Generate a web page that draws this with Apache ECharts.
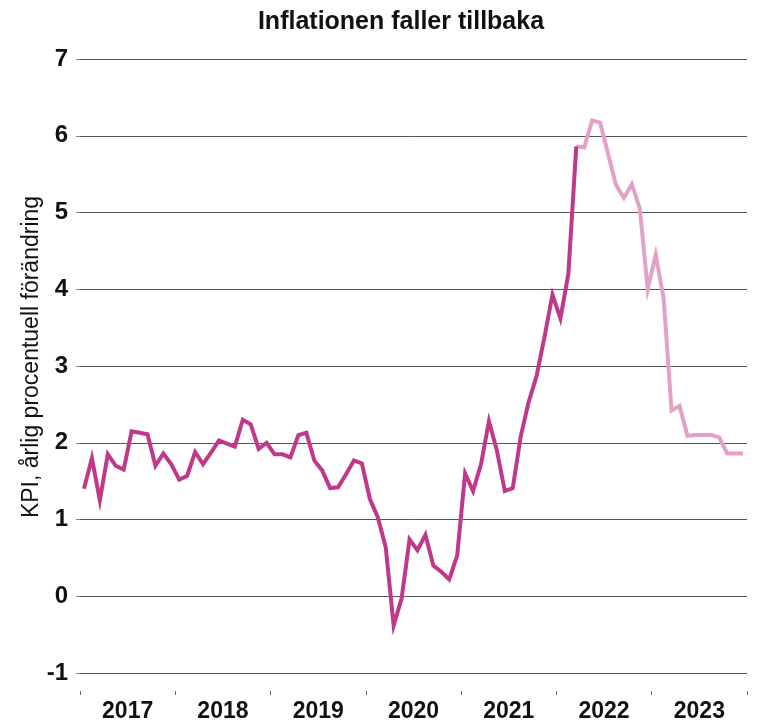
<!DOCTYPE html>
<html>
<head>
<meta charset="utf-8">
<script src="https://cdn.jsdelivr.net/npm/echarts@6/dist/echarts.min.js"></script>
<style>html,body{margin:0;padding:0;background:#fff}#c{width:768px;height:724px}</style>
</head>
<body>
<div id="c"></div>
<script>
const title = "Inflationen faller tillbaka";
const yName = "KPI, årlig procentuell förändring";
const years = ["2017", "2018", "2019", "2020", "2021", "2022", "2023"];
const yTicks = [-1, 0, 1, 2, 3, 4, 5, 6, 7];

// Utfall (monthly, Jan 2017 – Mar 2022)
const actual2017 = [1.4, 1.8, 1.25, 1.85, 1.7, 1.65, 2.15, 2.13, 2.11, 1.7, 1.86, 1.72];
const actual2018 = [1.52, 1.57, 1.88, 1.72, 1.87, 2.03, 1.99, 1.95, 2.3, 2.24, 1.92, 2.0];
const actual2019 = [1.85, 1.85, 1.81, 2.1, 2.13, 1.77, 1.64, 1.41, 1.42, 1.59, 1.77, 1.73];
const actual2020 = [1.27, 1.03, 0.64, -0.38, -0.03, 0.74, 0.6, 0.8, 0.4, 0.32, 0.22, 0.53];
const actual2021 = [1.6, 1.37, 1.72, 2.28, 1.9, 1.37, 1.41, 2.08, 2.53, 2.87, 3.38, 3.93];
const actual2022 = [3.62, 4.2, 5.86];

// Prognos (monthly, Mar 2022 – Dec 2023)
const forecast2022 = [5.86, 5.85, 6.2, 6.17, 5.77, 5.36, 5.19, 5.37, 5.05, 4.0];
const forecast2023 = [4.45, 3.88, 2.42, 2.48, 2.09, 2.1, 2.1, 2.1, 2.07, 1.86, 1.86, 1.86];
const forecastStartIndex = 62; // Mar 2022

const months = [];
years.forEach(y => { for (let m = 1; m <= 12; m++) months.push(y + "-" + String(m).padStart(2, "0")); });

const actual = [].concat(actual2017, actual2018, actual2019, actual2020, actual2021, actual2022);
const forecastVals = [].concat(forecast2022, forecast2023);
const actualData = months.map((_, i) => i < actual.length ? actual[i] : null);
const forecastData = months.map((_, i) => (i >= forecastStartIndex && i - forecastStartIndex < forecastVals.length) ? forecastVals[i - forecastStartIndex] : null);

const font = "'Liberation Sans', Arial, sans-serif";
const chart = echarts.init(document.getElementById('c'), null, { renderer: 'canvas' });
chart.setOption({
  animation: false,
  backgroundColor: '#fff',
  title: {
    text: title, left: 396, top: 5, textAlign: 'center',
    textStyle: { fontFamily: font, fontSize: 25, fontWeight: 'bold', color: '#111' }
  },
  grid: { left: 80, right: 21, top: 59, bottom: 51, containLabel: false },
  xAxis: [
    {
      type: 'category', data: months, boundaryGap: true, position: 'bottom', offset: 18,
      axisLine: { show: false, onZero: false },
      axisTick: { show: true, interval: 11, length: 4, lineStyle: { color: '#666', width: 1 } },
      axisLabel: { show: false },
      splitLine: { show: false }
    },
    {
      type: 'category', data: years, boundaryGap: true, position: 'bottom', offset: 18,
      axisLine: { show: false, onZero: false }, axisTick: { show: false },
      axisLabel: { show: true, margin: 9, fontFamily: font, fontSize: 23, fontWeight: 'bold', color: '#111' },
      splitLine: { show: false }
    }
  ],
  yAxis: {
    type: 'value', min: yTicks[0], max: yTicks[yTicks.length - 1], interval: 1,
    name: yName, nameLocation: 'middle', nameGap: 37, nameRotate: 90, nameMoveOverlap: false,
    nameTextStyle: { fontFamily: font, fontSize: 23, color: '#111', padding: [0, 0, 0, 18] },
    axisLine: { show: false },
    axisTick: { show: true, length: 4, lineStyle: { color: '#888' } },
    axisLabel: { margin: 12, fontFamily: font, fontSize: 24, fontWeight: 'bold', color: '#111' },
    splitLine: { show: true, lineStyle: { color: '#555', width: 1 } }
  },
  series: [
    {
      type: 'line', xAxisIndex: 0, data: actualData, showSymbol: false, symbol: 'none',
      lineStyle: { color: '#c0388a', width: 4, join: 'miter' }, connectNulls: false, z: 3
    },
    {
      type: 'line', xAxisIndex: 0, data: forecastData, showSymbol: false, symbol: 'none',
      lineStyle: { color: '#e3a1c7', width: 4, join: 'miter' }, connectNulls: false, z: 2
    }
  ]
});
</script>
</body>
</html>
